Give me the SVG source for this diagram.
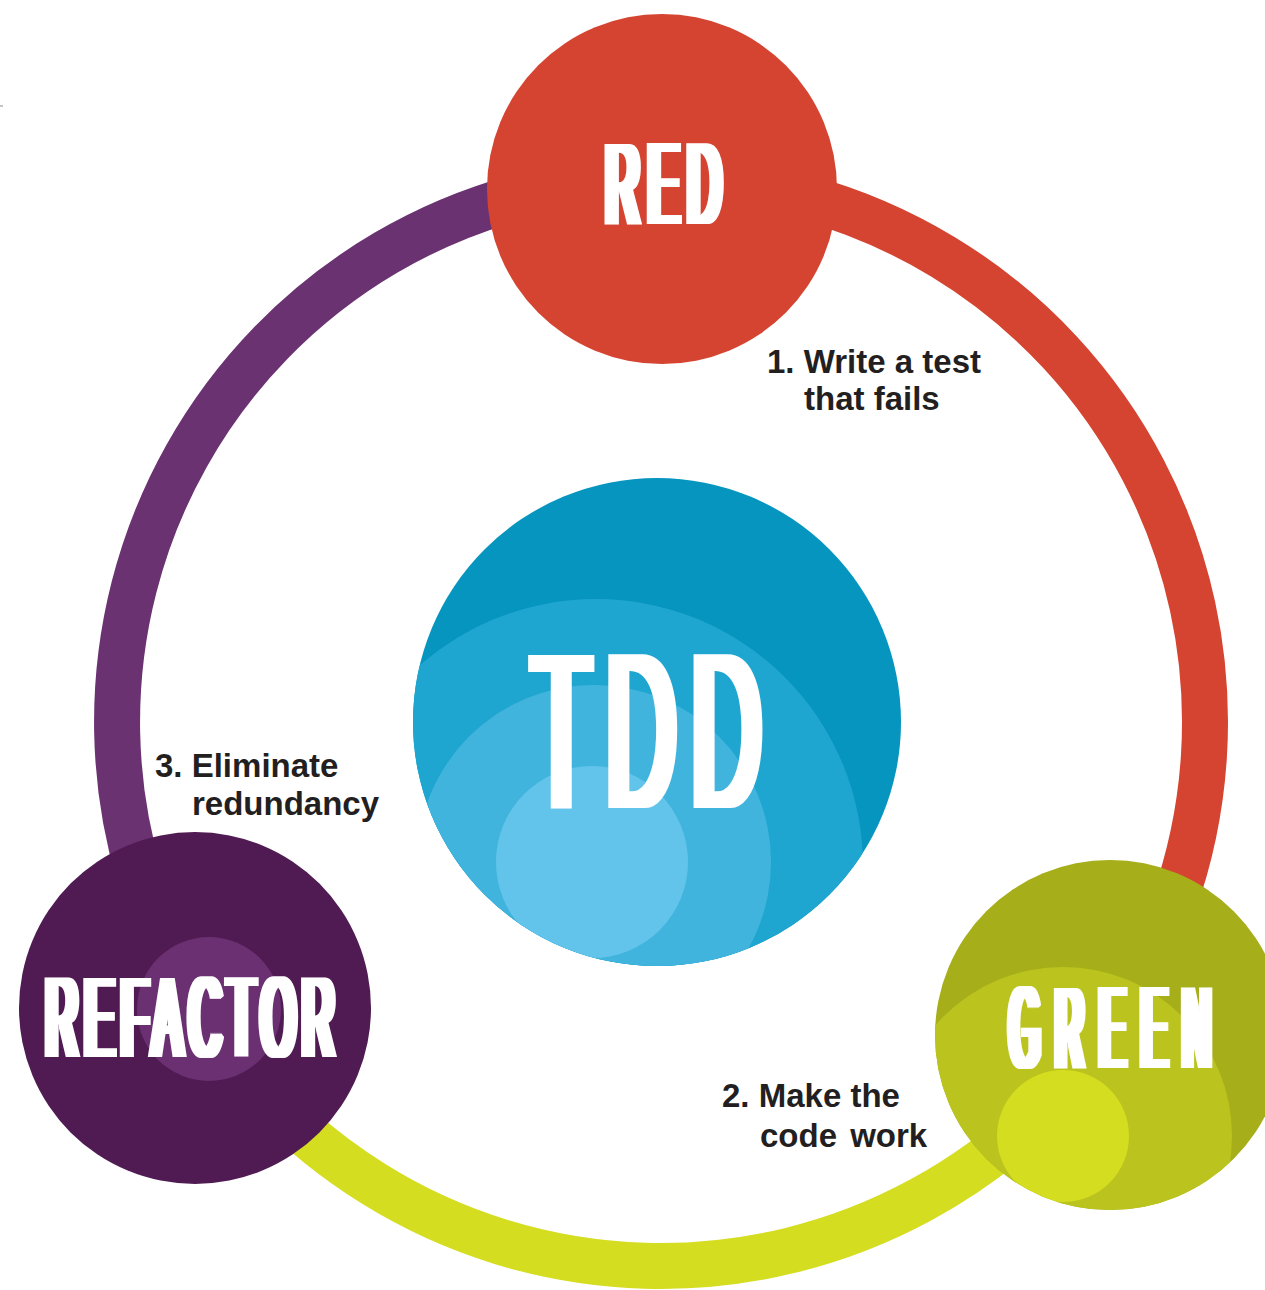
<svg xmlns="http://www.w3.org/2000/svg" width="1265" height="1290" viewBox="0 0 1265 1290">
  <style>
    .ring { fill: none; stroke-width: 46; }
    .title { font-family: "Liberation Sans", Arial, sans-serif; font-weight: normal; fill: #ffffff; }
    .label { font-family: "Liberation Sans", Arial, sans-serif; font-weight: bold; font-size: 33px; fill: #231f20; }
  </style>
  <defs>
    <clipPath id="clipTdd"><circle cx="657" cy="722" r="244"/></clipPath>
    <clipPath id="clipGreen"><circle cx="1110" cy="1035" r="175"/></clipPath>
    <filter id="stemSmall" x="-20%" y="-20%" width="140%" height="140%">
      <feMorphology operator="dilate" radius="4.5 0"/>
    </filter>
    <filter id="stemBig" x="-20%" y="-20%" width="140%" height="140%">
      <feMorphology operator="dilate" radius="6.3 0"/>
    </filter>
  </defs>
  <rect x="0" y="0" width="1265" height="1290" fill="#ffffff"/>
  <rect x="0" y="105.5" width="3" height="1" fill="#8a8a8a"/>

  <g id="connectors">
    <path class="ring" stroke="#6b3272" d="M 661 178 A 544 544 0 0 0 197.2 1006.2"/>
    <path class="ring" stroke="#d54431" d="M 661 178 A 544 544 0 0 1 1107.2 1033.2"/>
    <path class="ring" stroke="#d4dd1f" d="M 1107.2 1033.2 A 544 544 0 0 1 197.2 1006.2"/>
  </g>

  <g id="node-red">
    <circle cx="662" cy="189" r="175" fill="#d54431"/>
    <g filter="url(#stemSmall)">
      <text class="title" font-size="116" letter-spacing="21.6" transform="translate(605.8,224) scale(0.4,1)">RED</text>
    </g>
  </g>

  <g id="node-tdd">
    <circle cx="657" cy="722" r="244" fill="#0595bf"/>
    <g clip-path="url(#clipTdd)">
      <circle cx="596" cy="866" r="267" fill="#1fa6d0"/>
      <circle cx="594" cy="862" r="177" fill="#41b4dd"/>
      <circle cx="592" cy="862" r="96" fill="#63c4eb"/>
    </g>
    <g filter="url(#stemBig)">
      <text class="title" font-size="223" letter-spacing="37" transform="translate(532.1,808) scale(0.43,1)">TDD</text>
    </g>
  </g>

  <g id="node-green">
    <circle cx="1110" cy="1035" r="175" fill="#a6ae1a"/>
    <g clip-path="url(#clipGreen)">
      <circle cx="1063" cy="1136" r="169" fill="#bbc41e"/>
      <circle cx="1063" cy="1136" r="66" fill="#d4dd1f"/>
    </g>
    <g filter="url(#stemSmall)">
      <text class="title" font-size="116" letter-spacing="49" transform="translate(1009.7,1068) scale(0.33,1)">GREEN</text>
    </g>
  </g>

  <g id="node-refactor">
    <circle cx="195" cy="1008" r="176" fill="#4f1b52"/>
    <circle cx="209" cy="1009" r="72" fill="#6b3072"/>
    <g filter="url(#stemSmall)">
      <text class="title" font-size="115" letter-spacing="19.1" transform="translate(46,1057) scale(0.38,1)">REFACTOR</text>
    </g>
  </g>

  <g id="label-1">
    <text class="label" x="767" y="373">1. Write a test</text>
    <text class="label" x="804" y="410">that fails</text>
  </g>
  <g id="label-2">
    <text class="label" x="722" y="1107">2. Make the</text>
    <text class="label" x="760" y="1147" word-spacing="4">code work</text>
  </g>
  <g id="label-3">
    <text class="label" x="155" y="777">3. Eliminate</text>
    <text class="label" x="192" y="815">redundancy</text>
  </g>
</svg>
